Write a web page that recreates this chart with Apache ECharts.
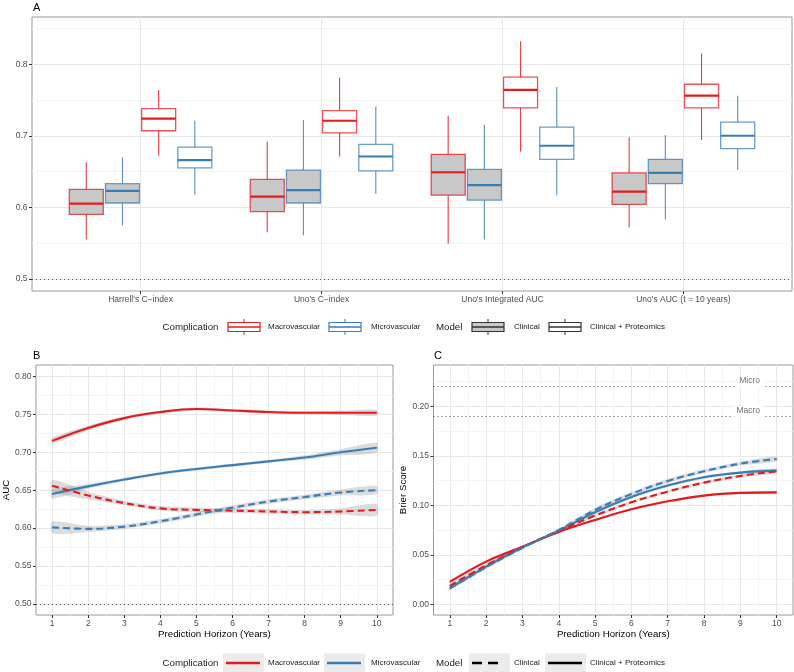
<!DOCTYPE html>
<html>
<head>
<meta charset="utf-8">
<title>Model performance</title>
<script src="https://cdn.jsdelivr.net/npm/echarts@6.0.0/dist/echarts.min.js"></script>
<style>
    html, body { margin: 0; padding: 0; background: #fff; }
    #chart { width: 794px; height: 672px; }
</style>
</head>
<body>
<div id="chart"></div>
<script>
// ---- panel A: boxplots, [min, q1, median, q3, max] per metric ----
const metrics = ["Harrell's C\u2212index", "Uno's C\u2212index", "Uno's Integrated AUC", "Uno's AUC (t = 10 years)"]
const macroClinicalBox = [
    [0.555, 0.590, 0.605, 0.625, 0.663],
    [0.565, 0.594, 0.615, 0.639, 0.692],
    [0.549, 0.617, 0.649, 0.674, 0.728],
    [0.572, 0.604, 0.622, 0.648, 0.698]
]
const microClinicalBox = [
    [0.575, 0.606, 0.623, 0.633, 0.670],
    [0.561, 0.606, 0.624, 0.652, 0.722],
    [0.555, 0.610, 0.631, 0.653, 0.715],
    [0.583, 0.633, 0.648, 0.667, 0.701]
]
const macroProtBox = [
    [0.672, 0.707, 0.724, 0.738, 0.764],
    [0.671, 0.704, 0.721, 0.735, 0.781],
    [0.678, 0.739, 0.764, 0.782, 0.832],
    [0.694, 0.739, 0.756, 0.772, 0.815]
]
const microProtBox = [
    [0.618, 0.655, 0.666, 0.684, 0.721],
    [0.619, 0.651, 0.671, 0.688, 0.741],
    [0.617, 0.667, 0.686, 0.712, 0.768],
    [0.652, 0.682, 0.700, 0.719, 0.756]
]
const aYTicks = [0.5, 0.6, 0.7, 0.8]
const aYMinor = [0.55, 0.65, 0.75, 0.85]

// ---- panel B: time-dependent AUC ----
const years = [1, 2, 3, 4, 5, 6, 7, 8, 9, 10]
const yearMinor = [1.5, 2.5, 3.5, 4.5, 5.5, 6.5, 7.5, 8.5, 9.5]
const bMacroProt = [0.715, 0.732, 0.745, 0.753, 0.757, 0.755, 0.753, 0.752, 0.752, 0.752]
const bMicroProt = [0.645, 0.655, 0.664, 0.672, 0.678, 0.683, 0.688, 0.693, 0.700, 0.706]
const bMacroClin = [0.656, 0.643, 0.633, 0.626, 0.624, 0.623, 0.622, 0.621, 0.622, 0.624]
const bMicroClin = [0.601, 0.599, 0.602, 0.609, 0.618, 0.627, 0.635, 0.641, 0.647, 0.650]
// half width of the grey confidence ribbon
const bMacroProtSe = [0.004, 0.003, 0.002, 0.002, 0.002, 0.002, 0.002, 0.002, 0.003, 0.004]
const bMicroProtSe = [0.006, 0.003, 0.002, 0.002, 0.002, 0.002, 0.002, 0.003, 0.004, 0.0065]
const bMacroClinSe = [0.0077, 0.005, 0.003, 0.003, 0.003, 0.003, 0.003, 0.003, 0.004, 0.0077]
const bMicroClinSe = [0.0077, 0.004, 0.003, 0.003, 0.003, 0.003, 0.003, 0.003, 0.004, 0.0055]
const bYTicks = [0.50, 0.55, 0.60, 0.65, 0.70, 0.75, 0.80]
const bYMinor = [0.525, 0.575, 0.625, 0.675, 0.725, 0.775]

// ---- panel C: Brier score ----
const cMacroProt = [0.0226, 0.0431, 0.0582, 0.0731, 0.0852, 0.0960, 0.1040, 0.1098, 0.1125, 0.1131]
const cMicroProt = [0.0162, 0.0380, 0.0576, 0.0744, 0.0929, 0.1084, 0.1199, 0.1283, 0.1330, 0.1350]
const cMacroClin = [0.0185, 0.0394, 0.0576, 0.0741, 0.0896, 0.1030, 0.1138, 0.1229, 0.1296, 0.1343]
const cMicroClin = [0.0162, 0.0374, 0.0569, 0.0751, 0.0953, 0.1114, 0.1246, 0.1343, 0.1421, 0.1468]
const cMacroProtSe = [0.0015, 0.0012, 0.001, 0.001, 0.001, 0.001, 0.001, 0.001, 0.0012, 0.0015]
const cMicroProtSe = [0.0015, 0.0012, 0.001, 0.001, 0.0015, 0.0015, 0.0015, 0.0015, 0.0015, 0.002]
const cMacroClinSe = [0.002, 0.0015, 0.0012, 0.0012, 0.0015, 0.0015, 0.0015, 0.0015, 0.0015, 0.002]
const cMicroClinSe = [0.002, 0.0015, 0.0012, 0.0015, 0.002, 0.002, 0.002, 0.002, 0.002, 0.0025]
const cYTicks = [0.00, 0.05, 0.10, 0.15, 0.20]
const cYMinor = [0.025, 0.075, 0.125, 0.175, 0.225]
const cRefValues = [0.2182, 0.1932]
const cRefLabels = ['Micro', 'Macro']

const RED = '#E41A1C'
const BLUE = '#377EB8'
const BOX_FILL = '#C8C8C8'
const FONT = 'Liberation Sans, Arial, sans-serif'
const MAJOR = '#E8E8E8'
const MINOR = '#F4F4F4'
const BOX_WIDTH = 0.188

const myChart = echarts.init(document.getElementById('chart'))

function majorAxis(gridIndex, min, max, ticks, fmt, extra) {
    return Object.assign({
        type: 'value',
        gridIndex: gridIndex,
        min: min,
        max: max,
        axisLine: { show: false, onZero: false },
        axisTick: { show: true, customValues: ticks, length: 3, lineStyle: { color: '#333' } },
        axisLabel: { customValues: ticks, formatter: fmt, fontSize: 8.5, color: '#4D4D4D', margin: 4.5, fontFamily: FONT },
        splitLine: { show: true, lineStyle: { color: MAJOR, width: 1 } }
    }, extra || {})
}

function minorAxis(gridIndex, min, max, ticks) {
    return {
        type: 'value',
        gridIndex: gridIndex,
        min: min,
        max: max,
        axisLine: { show: false, onZero: false },
        axisTick: { show: false, customValues: ticks },
        axisLabel: { show: false, customValues: ticks },
        splitLine: { show: true, lineStyle: { color: MINOR, width: 1 } }
    }
}

function boxSeries(name, boxes, shift, color, fill) {
    return {
        type: 'custom',
        name: name,
        xAxisIndex: 0,
        yAxisIndex: 0,
        z: 3,
        data: boxes.map((b, i) => [i + 1].concat(b)),
        encode: { x: 0, y: [1, 2, 3, 4, 5] },
        renderItem: function (params, api) {
            const x = api.value(0)
            const band = api.size([1, 0])[0]
            const cx = api.coord([x, api.value(3)])[0] + shift * band
            const half = band * BOX_WIDTH / 2
            const y = [1, 2, 3, 4, 5].map(d => api.coord([x, api.value(d)])[1])
            return {
                type: 'group',
                children: [
                    { type: 'line', shape: { x1: cx, y1: y[4], x2: cx, y2: y[3] }, style: { stroke: color, lineWidth: 1.1, opacity: 0.85 } },
                    { type: 'line', shape: { x1: cx, y1: y[1], x2: cx, y2: y[0] }, style: { stroke: color, lineWidth: 1.1, opacity: 0.85 } },
                    { type: 'rect', shape: { x: cx - half, y: y[3], width: half * 2, height: y[1] - y[3] },
                      style: { fill: fill, stroke: color, lineWidth: 1.3, strokeOpacity: 0.75 } },
                    { type: 'line', shape: { x1: cx - half, y1: y[2], x2: cx + half, y2: y[2] }, style: { stroke: color, lineWidth: 2.2 } }
                ]
            }
        }
    }
}

// grey confidence band: one smoothed polygon drawn from all points of the series
function ribbon(mid, se, xi, yi) {
    return {
        type: 'custom',
        xAxisIndex: xi,
        yAxisIndex: yi,
        silent: true,
        z: 2,
        data: mid.map((v, i) => [years[i], v - se[i], v + se[i]]),
        encode: { x: 0, y: [1, 2] },
        renderItem: function (params, api) {
            if (params.dataIndexInside !== 0) return null
            const n = params.dataInsideLength
            const upper = []
            const lower = []
            for (let i = 0; i < n; i++) {
                upper.push(api.coord([api.value(0, i), api.value(2, i)]))
                lower.unshift(api.coord([api.value(0, i), api.value(1, i)]))
            }
            return {
                type: 'polygon',
                shape: { points: upper.concat(lower), smooth: 0.25 },
                style: { fill: 'rgba(150,150,150,0.33)' }
            }
        }
    }
}

function curve(name, values, color, dashed, xi, yi, extra) {
    return Object.assign({
        type: 'line', name: name, xAxisIndex: xi, yAxisIndex: yi, smooth: 0.4,
        symbol: 'none', z: 4,
        data: values.map((v, i) => [years[i], v]),
        lineStyle: { color: color, width: 2.1, type: dashed ? [7, 4] : 'solid' }
    }, extra || {})
}

const dotted = { type: [1, 3], color: '#555', width: 1 }

// ---- legends drawn as graphics ----
function txt(x, y, s, size) {
    return { type: 'text', style: { x: x, y: y, text: s, fill: '#1A1A1A', fontSize: size || 8, fontFamily: FONT, verticalAlign: 'middle' } }
}
function boxKey(x, y, stroke, fill) {
    return [
        { type: 'line', shape: { x1: x + 16, y1: y - 8, x2: x + 16, y2: y + 8 }, style: { stroke: stroke, lineWidth: 1 } },
        { type: 'rect', shape: { x: x, y: y - 4.5, width: 32, height: 9 }, style: { fill: fill, stroke: stroke, lineWidth: 1.2 } },
        { type: 'line', shape: { x1: x, y1: y, x2: x + 32, y2: y }, style: { stroke: stroke, lineWidth: 1.5 } }
    ]
}
function lineKey(x, y, color, dashed) {
    return [
        { type: 'rect', shape: { x: x, y: y - 9.5, width: 41, height: 19 }, style: { fill: '#EBEBEB' } },
        { type: 'line', shape: { x1: x + 3, y1: y, x2: x + (dashed ? 31 : 37), y2: y },
          style: { stroke: color, lineWidth: 2.4, lineDash: dashed ? [10, 6] : null } }
    ]
}

const LA = 327
const LB = 663
const graphics = [
    { type: 'text', style: { x: 33, y: 8, text: 'A', fontSize: 11, fontFamily: FONT, fill: '#000', verticalAlign: 'middle' } },
    { type: 'text', style: { x: 33, y: 356, text: 'B', fontSize: 11, fontFamily: FONT, fill: '#000', verticalAlign: 'middle' } },
    { type: 'text', style: { x: 434, y: 356, text: 'C', fontSize: 11, fontFamily: FONT, fill: '#000', verticalAlign: 'middle' } },
    txt(162.5, LA, 'Complication', 9.7),
    ...boxKey(228, LA, RED, '#fff'),
    txt(268, LA, 'Macrovascular'),
    ...boxKey(329, LA, BLUE, '#fff'),
    txt(371, LA, 'Microvascular'),
    txt(436, LA, 'Model', 9.7),
    ...boxKey(472, LA, '#333', BOX_FILL),
    txt(514, LA, 'Clinical'),
    ...boxKey(549, LA, '#333', '#fff'),
    txt(590, LA, 'Clinical + Proteomics'),
    txt(162.5, LB, 'Complication', 9.7),
    ...lineKey(223, LB, RED, false),
    txt(268, LB, 'Macrovascular'),
    ...lineKey(324, LB, BLUE, false),
    txt(371, LB, 'Microvascular'),
    txt(436, LB, 'Model', 9.7),
    ...lineKey(469, LB, '#000', true),
    txt(514, LB, 'Clinical'),
    ...lineKey(545, LB, '#000', false),
    txt(590, LB, 'Clinical + Proteomics')
]

const gridStyle = { show: true, backgroundColor: '#fff', borderColor: '#9A9A9A', borderWidth: 1 }
const titleStyle = { fontSize: 9.7, color: '#000', fontFamily: FONT }

const option = {
    animation: false,
    grid: [
        Object.assign({ left: 32, top: 17, width: 760, height: 274 }, gridStyle),
        Object.assign({ left: 32, top: 365, width: 361, height: 250 }, gridStyle),
        Object.assign({ left: 433.5, top: 365, width: 359.5, height: 250 }, gridStyle)
    ],
    xAxis: [
        majorAxis(0, 0.4, 4.6, [1, 2, 3, 4], v => metrics[Math.round(v) - 1]),
        majorAxis(1, 0.55, 10.45, years, v => String(v), {
            name: 'Prediction Horizon (Years)', nameLocation: 'middle', nameGap: 13, nameTextStyle: titleStyle
        }),
        majorAxis(2, 0.55, 10.45, years, v => String(v), {
            name: 'Prediction Horizon (Years)', nameLocation: 'middle', nameGap: 13, nameTextStyle: titleStyle
        }),
        minorAxis(1, 0.55, 10.45, yearMinor),
        minorAxis(2, 0.55, 10.45, yearMinor)
    ],
    yAxis: [
        majorAxis(0, 0.483, 0.866, aYTicks, v => v.toFixed(1)),
        minorAxis(0, 0.483, 0.866, aYMinor),
        majorAxis(1, 0.4855, 0.815, bYTicks, v => v.toFixed(2), {
            name: 'AUC', nameLocation: 'middle', nameGap: 21, nameTextStyle: titleStyle
        }),
        minorAxis(1, 0.4855, 0.815, bYMinor),
        majorAxis(2, -0.0108, 0.2417, cYTicks, v => v.toFixed(2), {
            name: 'Brier Score', nameLocation: 'middle', nameGap: 22, nameTextStyle: titleStyle
        }),
        minorAxis(2, -0.0108, 0.2417, cYMinor)
    ],
    graphic: graphics,
    series: [
        Object.assign(boxSeries('Macro Clinical', macroClinicalBox, -0.3, RED, BOX_FILL), {
            markLine: { silent: true, symbol: ['none', 'none'], label: { show: false }, lineStyle: dotted, data: [{ yAxis: 0.5 }] }
        }),
        boxSeries('Micro Clinical', microClinicalBox, -0.1, BLUE, BOX_FILL),
        boxSeries('Macro Proteomics', macroProtBox, 0.1, RED, '#fff'),
        boxSeries('Micro Proteomics', microProtBox, 0.3, BLUE, '#fff'),

        ribbon(bMacroProt, bMacroProtSe, 1, 2),
        ribbon(bMicroProt, bMicroProtSe, 1, 2),
        ribbon(bMacroClin, bMacroClinSe, 1, 2),
        ribbon(bMicroClin, bMicroClinSe, 1, 2),
        curve('Macro C+P', bMacroProt, RED, false, 1, 2, {
            markLine: { silent: true, symbol: ['none', 'none'], label: { show: false }, lineStyle: dotted, data: [{ yAxis: 0.5 }] }
        }),
        curve('Micro C+P', bMicroProt, BLUE, false, 1, 2),
        curve('Macro Clinical', bMacroClin, RED, true, 1, 2),
        curve('Micro Clinical', bMicroClin, BLUE, true, 1, 2),

        ribbon(cMacroProt, cMacroProtSe, 2, 4),
        ribbon(cMicroProt, cMicroProtSe, 2, 4),
        ribbon(cMacroClin, cMacroClinSe, 2, 4),
        ribbon(cMicroClin, cMicroClinSe, 2, 4),
        curve('Macro C+P', cMacroProt, RED, false, 2, 4, {
            markLine: {
                silent: true, symbol: ['none', 'none'], lineStyle: dotted,
                label: {
                    show: true, position: 'insideEndTop', distance: [30, -1], color: '#707070',
                    fontSize: 8.5, fontFamily: FONT, backgroundColor: '#fff', padding: [1, 3, 2, 3]
                },
                data: cRefValues.map((v, i) => ({ yAxis: v, label: { formatter: cRefLabels[i] } }))
            }
        }),
        curve('Micro C+P', cMicroProt, BLUE, false, 2, 4),
        curve('Macro Clinical', cMacroClin, RED, true, 2, 4),
        curve('Micro Clinical', cMicroClin, BLUE, true, 2, 4)
    ]
}

myChart.setOption(option)
</script>
</body>
</html>
